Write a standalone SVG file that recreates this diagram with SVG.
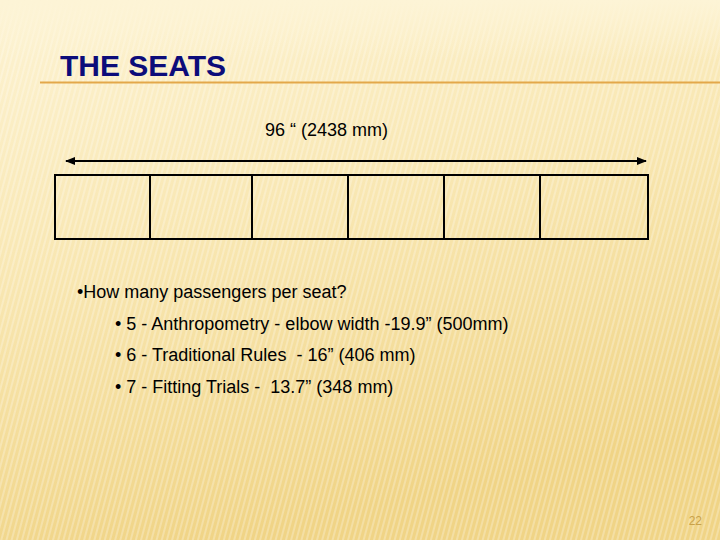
<svg xmlns="http://www.w3.org/2000/svg" width="720" height="540" viewBox="0 0 720 540">
<defs>
<linearGradient id="bg" x1="0" y1="0" x2="0.3" y2="1">
<stop offset="0" stop-color="#fdf3d3"/>
<stop offset="0.5" stop-color="#f8e6b0"/>
<stop offset="1" stop-color="#f0d486"/>
</linearGradient>
<pattern id="stripes" width="5" height="5" patternUnits="userSpaceOnUse" patternTransform="rotate(15)">
<rect width="2" height="5" fill="#ffffff" opacity="0.25"/>
</pattern>
<linearGradient id="top" x1="0" y1="0" x2="0" y2="1">
<stop offset="0" stop-color="#fdf4d6" stop-opacity="1"/>
<stop offset="1" stop-color="#fdf4d6" stop-opacity="0"/>
</linearGradient>
<marker id="ah" viewBox="0 0 10 10" refX="9" refY="5" markerWidth="5" markerHeight="5" orient="auto-start-reverse">
<path d="M0,1 L10,5 L0,9 z" fill="#000"/>
</marker>
<style>
.t{font-family:"Liberation Sans",Arial,sans-serif;fill:#000;font-size:18px;white-space:pre;}
.cell{fill:none;stroke:#000;stroke-width:2;}
</style>
</defs>
<rect width="720" height="540" fill="url(#bg)"/>
<rect width="720" height="540" fill="url(#stripes)"/>
<rect width="720" height="60" fill="url(#top)"/>
<text x="60" y="76" font-family="'Liberation Sans',sans-serif" font-weight="bold" font-size="30" fill="#0c0c7a">THE SEATS</text>
<line x1="40" y1="82.5" x2="720" y2="82.5" stroke="#e3a84a" stroke-width="2"/>
<g id="dimension">
<text class="t" x="265" y="136">96 “ (2438 mm)</text>
</g>
<g id="connectors">
<line x1="66" y1="161" x2="646" y2="161" stroke="#000" stroke-width="2" marker-start="url(#ah)" marker-end="url(#ah)"/>
</g>
<g id="seats">
<rect class="cell" x="55" y="175" width="593" height="64"/>
<line class="cell" x1="150" y1="175" x2="150" y2="239"/>
<line class="cell" x1="252" y1="175" x2="252" y2="239"/>
<line class="cell" x1="348" y1="175" x2="348" y2="239"/>
<line class="cell" x1="444" y1="175" x2="444" y2="239"/>
<line class="cell" x1="540" y1="175" x2="540" y2="239"/>
</g>
<g id="bullets">
<text class="t" x="77" y="298">•How many passengers per seat?</text>
<text class="t" x="115" y="330">• 5 - Anthropometry - elbow width -19.9” (500mm)</text>
<text class="t" x="115" y="361">• 6 - Traditional Rules  - 16” (406 mm)</text>
<text class="t" x="115" y="393">• 7 - Fitting Trials -  13.7” (348 mm)</text>
</g>
<text x="702" y="525" text-anchor="end" font-family="'Liberation Sans',sans-serif" font-size="12" fill="#c9a24a">22</text>
</svg>
